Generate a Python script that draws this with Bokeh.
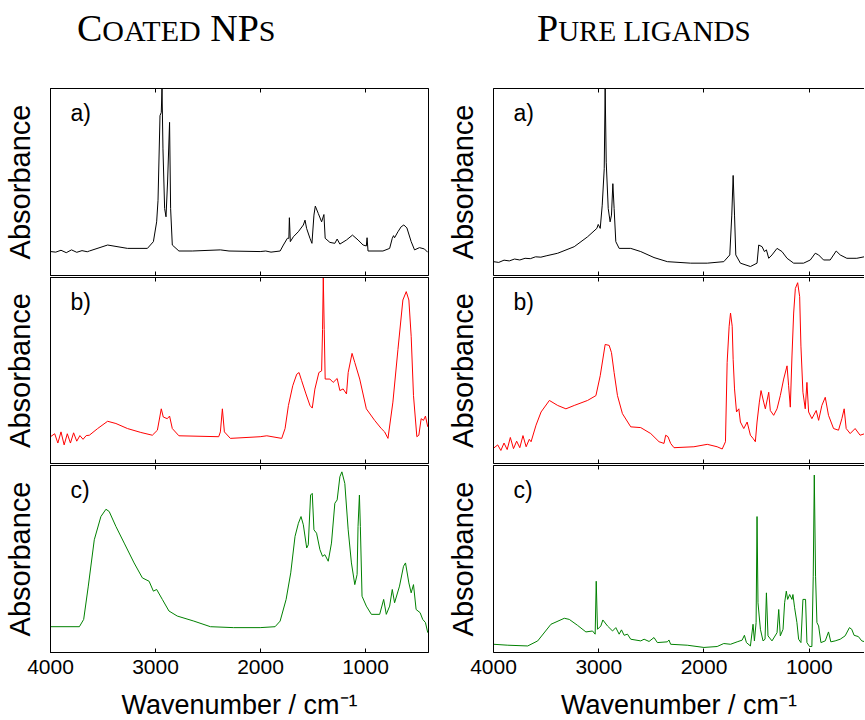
from bokeh.plotting import figure
from bokeh.models import Range1d, LinearAxis, FixedTicker, Label, Div, CustomLabelingPolicy
from bokeh.layouts import column, row
from bokeh.embed import file_html
from bokeh.resources import INLINE

SANS = "Liberation Sans"
SERIF = "Liberation Serif"

X_TICKS = [4000, 3000, 2000, 1000]
PANEL_LABELS = ["a)", "b)", "c)"]
LINE_COLORS = ["#000000", "#ff0000", "#008000"]
X_LABEL = "Wavenumber / cm\u207b\u00b9"
Y_LABEL = "Absorbance"

# (wavenumber / cm-1, absorbance a.u.)
COATED_A = [(4000, 0.128), (3950, 0.125), (3900, 0.135), (3850, 0.122), (3800, 0.137), (3750, 0.124),
            (3700, 0.133), (3650, 0.127), (3630, 0.131), (3456, 0.163), (3267, 0.145), (3077, 0.145),
            (3020, 0.181), (2989, 0.287), (2976, 0.402), (2957, 0.855), (2945, 0.872), (2938, 1.0),
            (2929, 0.677), (2913, 0.358), (2900, 0.314), (2885, 0.5), (2866, 0.819), (2856, 0.358),
            (2840, 0.163), (2777, 0.131), (2650, 0.131), (2382, 0.137), (2300, 0.131), (2003, 0.128),
            (1950, 0.131), (1900, 0.125), (1813, 0.131), (1782, 0.163), (1744, 0.199), (1730, 0.199),
            (1725, 0.309), (1716, 0.181), (1687, 0.207), (1640, 0.234), (1592, 0.27), (1576, 0.296),
            (1561, 0.252), (1529, 0.199), (1510, 0.172), (1491, 0.323), (1478, 0.371), (1450, 0.332),
            (1418, 0.287), (1396, 0.326), (1384, 0.199), (1339, 0.177), (1292, 0.172), (1270, 0.195),
            (1244, 0.168), (1181, 0.19), (1124, 0.216), (1071, 0.19), (1023, 0.163), (992, 0.158),
            (985, 0.202), (976, 0.131), (834, 0.131), (770, 0.145), (745, 0.199), (733, 0.213),
            (723, 0.202), (691, 0.234), (660, 0.261), (635, 0.27), (606, 0.255), (565, 0.181),
            (533, 0.137), (486, 0.149), (439, 0.142), (407, 0.124)]

COATED_B = [(4000, 0.144), (3960, 0.16), (3930, 0.11), (3900, 0.17), (3870, 0.10), (3840, 0.16),
            (3810, 0.11), (3780, 0.165), (3750, 0.12), (3720, 0.15), (3690, 0.13), (3660, 0.15),
            (3630, 0.152), (3551, 0.188), (3456, 0.227), (3377, 0.215), (3267, 0.188), (3140, 0.167),
            (3030, 0.152), (2982, 0.179), (2945, 0.294), (2926, 0.25), (2888, 0.241), (2866, 0.255),
            (2840, 0.188), (2777, 0.149), (2398, 0.144), (2382, 0.17), (2363, 0.294), (2344, 0.17),
            (2287, 0.135), (2003, 0.144), (1940, 0.149), (1798, 0.135), (1766, 0.188), (1734, 0.312),
            (1693, 0.418), (1655, 0.48), (1633, 0.489), (1608, 0.445), (1567, 0.374), (1529, 0.312),
            (1507, 0.298), (1482, 0.4), (1444, 0.489), (1418, 0.498), (1409, 0.72), (1402, 1.0),
            (1393, 0.72), (1384, 0.454), (1339, 0.454), (1308, 0.436), (1270, 0.457), (1244, 0.392),
            (1213, 0.401), (1181, 0.374), (1165, 0.489), (1128, 0.592), (1102, 0.543), (1055, 0.454),
            (992, 0.294), (913, 0.232), (850, 0.188), (818, 0.17), (786, 0.135), (739, 0.33),
            (691, 0.613), (644, 0.879), (612, 0.924), (587, 0.879), (565, 0.684), (543, 0.365),
            (511, 0.144), (492, 0.152), (470, 0.241), (448, 0.232), (429, 0.255), (407, 0.197)]

COATED_C = [(4000, 0.138), (3725, 0.138), (3684, 0.177), (3640, 0.355), (3583, 0.603), (3520, 0.727),
            (3472, 0.766), (3441, 0.754), (3377, 0.674), (3298, 0.585), (3204, 0.479), (3125, 0.399),
            (3061, 0.381), (3020, 0.328), (2989, 0.337), (2935, 0.284), (2872, 0.222), (2793, 0.195),
            (2635, 0.168), (2477, 0.138), (2256, 0.133), (2003, 0.133), (1861, 0.138), (1813, 0.168),
            (1756, 0.284), (1712, 0.426), (1671, 0.621), (1639, 0.691), (1614, 0.727), (1592, 0.683),
            (1560, 0.559), (1545, 0.576), (1523, 0.842), (1507, 0.851), (1491, 0.656), (1466, 0.638),
            (1434, 0.55), (1409, 0.514), (1387, 0.523), (1355, 0.488), (1324, 0.585), (1292, 0.798),
            (1270, 0.816), (1244, 0.94), (1225, 0.966), (1197, 0.904), (1165, 0.656), (1134, 0.479),
            (1102, 0.363), (1080, 0.417), (1071, 0.674), (1058, 0.842), (1049, 0.674), (1033, 0.301),
            (992, 0.248), (944, 0.204), (865, 0.204), (827, 0.284), (802, 0.204), (770, 0.248),
            (745, 0.337), (723, 0.266), (676, 0.355), (638, 0.461), (619, 0.479), (587, 0.372),
            (565, 0.319), (543, 0.363), (518, 0.23), (480, 0.213), (455, 0.177), (429, 0.16),
            (407, 0.106)]

PURE_A = [(4000, 0.074), (3950, 0.07), (3900, 0.082), (3850, 0.078), (3800, 0.088), (3750, 0.083),
          (3700, 0.092), (3650, 0.09), (3600, 0.1), (3550, 0.098), (3500, 0.105), (3390, 0.119),
          (3233, 0.154), (3106, 0.207), (3018, 0.252), (3005, 0.273), (2986, 0.252), (2967, 0.376),
          (2948, 0.571), (2939, 1.0), (2929, 0.606), (2910, 0.358), (2892, 0.287), (2879, 0.323),
          (2866, 0.491), (2854, 0.358), (2838, 0.181), (2806, 0.145), (2696, 0.145), (2601, 0.128),
          (2475, 0.096), (2348, 0.074), (2127, 0.066), (1969, 0.066), (1812, 0.074), (1755, 0.11),
          (1736, 0.323), (1723, 0.535), (1710, 0.323), (1698, 0.11), (1654, 0.066), (1559, 0.048),
          (1496, 0.066), (1480, 0.163), (1448, 0.154), (1426, 0.128), (1407, 0.137), (1385, 0.092),
          (1354, 0.11), (1306, 0.145), (1259, 0.128), (1211, 0.092), (1148, 0.066), (1054, 0.066),
          (990, 0.083), (943, 0.119), (911, 0.11), (864, 0.083), (801, 0.083), (744, 0.131),
          (706, 0.11), (643, 0.092), (548, 0.092), (469, 0.101)]

PURE_B = [(4000, 0.082), (3960, 0.10), (3930, 0.07), (3900, 0.11), (3870, 0.075), (3840, 0.14),
          (3810, 0.08), (3780, 0.12), (3750, 0.085), (3720, 0.15), (3690, 0.09), (3660, 0.13),
          (3643, 0.117), (3596, 0.206), (3548, 0.277), (3469, 0.339), (3390, 0.312), (3312, 0.294),
          (3233, 0.312), (3106, 0.339), (3027, 0.365), (2986, 0.472), (2939, 0.64), (2901, 0.635),
          (2879, 0.596), (2854, 0.489), (2822, 0.365), (2775, 0.268), (2696, 0.197), (2601, 0.193),
          (2506, 0.161), (2427, 0.117), (2380, 0.108), (2364, 0.152), (2342, 0.144), (2317, 0.108),
          (2285, 0.085), (2096, 0.09), (1969, 0.103), (1875, 0.09), (1827, 0.078), (1796, 0.117),
          (1780, 0.543), (1761, 0.738), (1748, 0.809), (1732, 0.738), (1723, 0.56), (1710, 0.401),
          (1691, 0.277), (1669, 0.294), (1654, 0.223), (1622, 0.188), (1590, 0.223), (1559, 0.152),
          (1534, 0.135), (1512, 0.117), (1496, 0.223), (1474, 0.33), (1458, 0.392), (1433, 0.33),
          (1417, 0.294), (1385, 0.383), (1370, 0.285), (1338, 0.259), (1306, 0.294), (1275, 0.365),
          (1243, 0.454), (1211, 0.525), (1196, 0.418), (1180, 0.303), (1164, 0.578), (1148, 0.809),
          (1132, 0.941), (1110, 0.972), (1091, 0.897), (1079, 0.631), (1060, 0.383), (1038, 0.294),
          (1022, 0.436), (1006, 0.277), (975, 0.241), (934, 0.285), (911, 0.232), (880, 0.312),
          (848, 0.356), (817, 0.259), (769, 0.188), (722, 0.179), (690, 0.241), (668, 0.294),
          (649, 0.188), (611, 0.161), (564, 0.188), (517, 0.152), (469, 0.161)]

PURE_C = [(4000, 0.044), (3864, 0.039), (3675, 0.035), (3580, 0.062), (3454, 0.151), (3327, 0.183),
          (3280, 0.177), (3201, 0.145), (3122, 0.11), (3059, 0.115), (3034, 0.098), (3024, 0.381),
          (3012, 0.124), (2980, 0.142), (2961, 0.174), (2917, 0.142), (2869, 0.115), (2838, 0.133),
          (2806, 0.098), (2784, 0.121), (2759, 0.092), (2727, 0.098), (2696, 0.071), (2601, 0.062),
          (2569, 0.071), (2522, 0.059), (2475, 0.08), (2443, 0.053), (2348, 0.057), (2333, 0.067),
          (2317, 0.044), (2159, 0.039), (2001, 0.027), (1875, 0.032), (1812, 0.048), (1748, 0.044),
          (1685, 0.057), (1638, 0.066), (1616, 0.092), (1597, 0.053), (1559, 0.035), (1534, 0.151),
          (1521, 0.062), (1505, 0.16), (1496, 0.727), (1487, 0.266), (1464, 0.124), (1439, 0.062),
          (1420, 0.071), (1407, 0.319), (1392, 0.089), (1354, 0.062), (1306, 0.106), (1290, 0.23),
          (1275, 0.089), (1249, 0.124), (1234, 0.266), (1218, 0.328), (1205, 0.284), (1186, 0.31),
          (1164, 0.284), (1155, 0.31), (1139, 0.239), (1117, 0.16), (1101, 0.071), (1079, 0.053),
          (1060, 0.284), (1035, 0.284), (1022, 0.053), (997, 0.032), (975, 0.032), (962, 0.408),
          (952, 0.949), (940, 0.408), (927, 0.16), (911, 0.142), (889, 0.053), (848, 0.062),
          (817, 0.11), (795, 0.057), (754, 0.062), (706, 0.071), (659, 0.089), (618, 0.133),
          (596, 0.124), (574, 0.092), (533, 0.085), (501, 0.062), (469, 0.057)]


def no_labels():
    return CustomLabelingPolicy(code="return new Set()")


def make_panel(data, color, label, left_col, pos):
    top = 8 if pos == 0 else 1
    bottom = 70 if pos == 2 else 1
    frame_h = 186 if pos == 1 else 187
    width = 443 if left_col else 421
    x_end = 400 if left_col else 475
    p = figure(width=width, height=top + frame_h + bottom,
               x_range=Range1d(4000, x_end), y_range=Range1d(0, 1),
               output_backend="svg", toolbar_location=None,
               min_border_left=49, min_border_right=15 if left_col else 0,
               min_border_top=top, min_border_bottom=bottom)
    p.outline_line_color = "black" if left_col else None
    p.background_fill_color = "white"
    p.border_fill_color = "white"
    p.xgrid.grid_line_color = None
    p.ygrid.grid_line_color = None

    xa = p.xaxis[0]
    xa.ticker = FixedTicker(ticks=X_TICKS)
    xa.major_tick_in = 4
    xa.major_tick_out = 0
    xa.minor_tick_in = 0
    xa.minor_tick_out = 0
    xa.axis_line_color = "black"
    xa.major_tick_line_color = "black"
    if pos == 2:
        xa.major_label_text_font = SANS
        xa.major_label_text_font_size = "21px"
        xa.major_label_text_color = "black"
        xa.major_label_standoff = 7
        xa.axis_label = X_LABEL
        xa.axis_label_text_font = SANS
        xa.axis_label_text_font_size = "27px"
        xa.axis_label_text_font_style = "normal"
        xa.axis_label_text_color = "black"
        xa.axis_label_standoff = 13
    else:
        xa.major_label_text_font_size = "0px"
        xa.major_label_standoff = 0
        xa.major_label_policy = no_labels()

    above = LinearAxis(ticker=FixedTicker(ticks=X_TICKS), major_tick_in=4, major_tick_out=0,
                       minor_tick_in=0, minor_tick_out=0, major_label_text_font_size="0px",
                       major_label_standoff=0, axis_line_color="black",
                       major_tick_line_color="black", major_label_policy=no_labels())
    p.add_layout(above, "above")

    ya = p.yaxis[0]
    ya.ticker = FixedTicker(ticks=[])
    ya.major_tick_in = 0
    ya.major_tick_out = 0
    ya.minor_tick_in = 0
    ya.minor_tick_out = 0
    ya.major_label_text_font_size = "0px"
    ya.major_label_standoff = 0
    ya.axis_line_color = "black"
    ya.axis_label = Y_LABEL
    ya.axis_label_text_font = SANS
    ya.axis_label_text_font_size = "29px"
    ya.axis_label_text_font_style = "normal"
    ya.axis_label_text_color = "black"
    ya.axis_label_standoff = 15

    xs = [d[0] for d in data]
    ys = [d[1] for d in data]
    p.line(xs, ys, line_color=color, line_width=1)

    p.add_layout(Label(x=3810, y=0.87, text=label, text_font=SANS, text_font_size="23px",
                       text_color="black", text_align="left", text_baseline="alphabetic"))
    return p


left_series = [COATED_A, COATED_B, COATED_C]
right_series = [PURE_A, PURE_B, PURE_C]

left_panels = [make_panel(left_series[i], LINE_COLORS[i], PANEL_LABELS[i], True, i) for i in range(3)]
right_panels = [make_panel(right_series[i], LINE_COLORS[i], PANEL_LABELS[i], False, i) for i in range(3)]

title_style = ("font-family:'Liberation Serif';font-size:38px;line-height:1;"
               "white-space:nowrap;color:#000;padding-top:4px;")
left_title = Div(text=('<div style="' + title_style + 'padding-left:72px;">C<span style="font-size:30px">OATED</span>'
                       ' NP<span style="font-size:30px">S</span></div>'),
                 width=443, height=70)
right_title = Div(text=('<div style="' + title_style + 'padding-left:79px;">P<span style="font-size:29px">URE LIGANDS</span></div>'),
                  width=421, height=70)

layout = column(row(left_title, right_title),
                row(column(*left_panels), column(*right_panels)))

open("out.html", "w").write(file_html(layout, INLINE))
